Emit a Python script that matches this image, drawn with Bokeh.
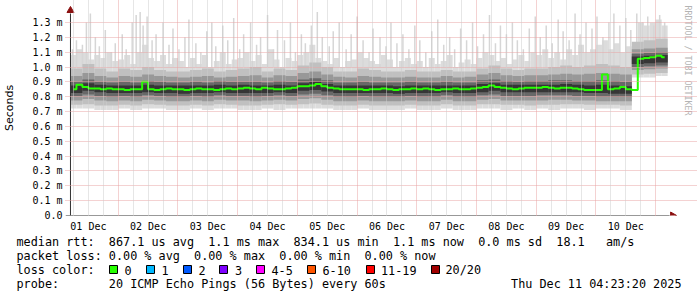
import math
from bokeh.plotting import figure
from bokeh.models import Range1d, FixedTicker, Grid, PrintfTickFormatter
from bokeh.layouts import column
from bokeh.embed import file_html
from bokeh.resources import INLINE
from bokeh.core.properties import value

# ---------------- data (time in hours since 2025-12-01 00:00, latency in ms) ----------------
t0 = 4.8          # first sample
fine_step = 2.4   # median / max resolution
coarse_step = 4.8 # band resolution

median = [
    0.85, 0.88, 0.865, 0.855, 0.855, 0.85, 0.855, 0.85,
    0.85, 0.845, 0.85, 0.85, 0.90, 0.85, 0.845, 0.85, 0.855, 0.85,
    0.85, 0.845, 0.85, 0.855, 0.85, 0.85, 0.845, 0.85, 0.855, 0.85,
    0.855, 0.86, 0.855, 0.85, 0.86, 0.855, 0.85, 0.85, 0.855, 0.86,
    0.87, 0.87, 0.875, 0.885, 0.87, 0.86, 0.855, 0.85, 0.85, 0.85,
    0.85, 0.845, 0.85, 0.85, 0.855, 0.85, 0.845, 0.85, 0.85, 0.855,
    0.85, 0.855, 0.85, 0.845, 0.85, 0.85, 0.855, 0.85, 0.85, 0.855,
    0.86, 0.865, 0.875, 0.865, 0.86, 0.855, 0.85, 0.855, 0.86, 0.86,
    0.86, 0.865, 0.86, 0.855, 0.86, 0.86, 0.855, 0.85, 0.845, 0.845,
    0.845, 0.95, 0.85, 0.855, 0.865, 0.85, 0.845, 1.055, 1.06, 1.065,
    1.075, 1.065,
]

smoke_max = [
    1.08, 1.12, 1.10, 1.05, 1.08, 1.06, 1.10, 1.04,
    1.05, 1.08, 1.02, 1.10, 1.15, 1.06, 1.04, 1.08, 1.02, 1.06,
    1.04, 1.00, 1.06, 1.02, 1.08, 1.00, 1.04, 1.10, 1.02, 1.05,
    1.06, 1.10, 1.04, 1.08, 1.02, 1.12, 1.05, 1.00, 1.06, 1.04,
    1.08, 1.10, 1.15, 1.06, 1.04, 1.02, 1.06, 1.00, 1.04, 1.05,
    1.10, 1.06, 1.04, 1.02, 1.08, 1.05, 1.00, 1.04, 1.06, 1.02,
    1.04, 1.00, 1.06, 1.02, 1.04, 1.08, 1.00, 1.03, 1.05, 1.02,
    1.06, 1.10, 1.08, 1.04, 1.06, 1.02, 1.05, 1.08, 1.04, 1.10,
    1.08, 1.12, 1.06, 1.10, 1.05, 1.12, 1.08, 1.15, 1.10, 1.12,
    1.15, 1.18, 1.12, 1.16, 1.10, 1.14, 1.12, 1.30, 1.28, 1.30,
    1.32, 1.28,
]

# percentile bands, coarse resolution (50 bins)
smoke_min = [0.72, 0.72, 0.71, 0.71, 0.72, 0.71, 0.72, 0.72, 0.71, 0.71,
             0.72, 0.71, 0.72, 0.72, 0.71, 0.71, 0.72, 0.71, 0.72, 0.72,
             0.72, 0.72, 0.71, 0.71, 0.72, 0.71, 0.71, 0.71, 0.72, 0.71,
             0.71, 0.72, 0.71, 0.71, 0.72, 0.72, 0.71, 0.72, 0.71, 0.72,
             0.71, 0.72, 0.72, 0.71, 0.72, 0.72, 0.71, 0.93, 0.93, 0.94]
p10 = [0.745, 0.75, 0.74, 0.74, 0.745, 0.74, 0.75, 0.745, 0.74, 0.74,
       0.745, 0.74, 0.75, 0.745, 0.74, 0.74, 0.745, 0.75, 0.745, 0.75,
       0.755, 0.745, 0.74, 0.74, 0.745, 0.74, 0.74, 0.74, 0.745, 0.74,
       0.74, 0.75, 0.74, 0.74, 0.75, 0.75, 0.745, 0.745, 0.74, 0.745,
       0.745, 0.75, 0.75, 0.745, 0.745, 0.745, 0.74, 0.95, 0.955, 0.96]
p25 = [0.775, 0.785, 0.775, 0.77, 0.775, 0.77, 0.78, 0.775, 0.77, 0.77,
       0.775, 0.77, 0.78, 0.775, 0.775, 0.77, 0.775, 0.78, 0.775, 0.785,
       0.79, 0.78, 0.77, 0.77, 0.775, 0.77, 0.77, 0.77, 0.775, 0.77,
       0.77, 0.78, 0.77, 0.77, 0.78, 0.785, 0.775, 0.775, 0.775, 0.775,
       0.78, 0.78, 0.775, 0.775, 0.77, 0.77, 0.77, 0.98, 0.985, 0.99]
p40 = [0.805, 0.815, 0.805, 0.80, 0.805, 0.80, 0.81, 0.805, 0.80, 0.80,
       0.805, 0.80, 0.81, 0.805, 0.805, 0.80, 0.805, 0.81, 0.805, 0.815,
       0.82, 0.81, 0.80, 0.80, 0.805, 0.80, 0.80, 0.80, 0.805, 0.80,
       0.80, 0.81, 0.80, 0.80, 0.81, 0.815, 0.805, 0.805, 0.805, 0.81,
       0.81, 0.81, 0.805, 0.805, 0.80, 0.80, 0.80, 1.00, 1.005, 1.01]
p45 = [0.825, 0.84, 0.83, 0.825, 0.825, 0.825, 0.83, 0.825, 0.825, 0.82,
       0.825, 0.825, 0.83, 0.825, 0.825, 0.825, 0.825, 0.83, 0.825, 0.84,
       0.845, 0.835, 0.825, 0.825, 0.825, 0.825, 0.825, 0.82, 0.825, 0.825,
       0.825, 0.83, 0.825, 0.825, 0.83, 0.84, 0.83, 0.83, 0.83, 0.83,
       0.83, 0.83, 0.83, 0.825, 0.825, 0.82, 0.82, 1.02, 1.025, 1.03]
p55 = [0.875, 0.89, 0.88, 0.875, 0.875, 0.875, 0.88, 0.875, 0.875, 0.875,
       0.875, 0.875, 0.88, 0.875, 0.88, 0.875, 0.875, 0.88, 0.875, 0.89,
       0.90, 0.885, 0.875, 0.875, 0.875, 0.875, 0.875, 0.87, 0.875, 0.875,
       0.875, 0.875, 0.875, 0.875, 0.885, 0.89, 0.88, 0.88, 0.88, 0.88,
       0.88, 0.885, 0.88, 0.875, 0.88, 0.875, 0.87, 1.07, 1.075, 1.08]
p60 = [0.90, 0.915, 0.90, 0.895, 0.90, 0.895, 0.905, 0.90, 0.895, 0.895,
       0.90, 0.895, 0.905, 0.90, 0.90, 0.90, 0.895, 0.905, 0.90, 0.915,
       0.925, 0.91, 0.895, 0.895, 0.90, 0.895, 0.895, 0.895, 0.90, 0.895,
       0.895, 0.90, 0.895, 0.895, 0.91, 0.915, 0.905, 0.90, 0.905, 0.905,
       0.91, 0.91, 0.905, 0.905, 0.91, 0.905, 0.90, 1.09, 1.095, 1.10]
p75 = [0.94, 0.96, 0.94, 0.93, 0.94, 0.935, 0.95, 0.94, 0.935, 0.93,
       0.935, 0.94, 0.93, 0.935, 0.94, 0.945, 0.93, 0.945, 0.94, 0.96,
       0.97, 0.95, 0.935, 0.93, 0.94, 0.935, 0.93, 0.93, 0.935, 0.93,
       0.93, 0.94, 0.93, 0.935, 0.95, 0.96, 0.945, 0.94, 0.945, 0.945,
       0.95, 0.955, 0.95, 0.955, 0.96, 0.955, 0.95, 1.12, 1.125, 1.13]
p90 = [0.99, 1.02, 0.99, 0.97, 0.99, 0.98, 1.00, 0.98, 0.97, 0.97,
       0.98, 0.99, 0.97, 0.98, 0.99, 1.00, 0.97, 0.99, 0.98, 1.01,
       1.03, 1.00, 0.97, 0.97, 0.99, 0.98, 0.97, 0.97, 0.98, 0.97,
       0.97, 0.98, 0.97, 0.97, 0.99, 1.01, 0.99, 0.98, 0.99, 0.99,
       1.00, 1.01, 1.00, 1.01, 1.02, 1.01, 1.00, 1.17, 1.18, 1.19]

# thin tall outliers (time in hours, value in ms)
spike_t = [5.6, 7.2, 9.6, 11.2, 12.8, 14.8, 16.4, 18.8, 21.2, 22.8,
           25.6, 27.2, 29.6, 31.2, 32.8, 34.0, 35.6, 37.6, 39.2, 42.0,
           44.4, 46.0, 48.4, 50.8, 52.4, 55.2, 57.2, 59.6, 61.6, 63.2,
           66.0, 68.0, 70.4, 72.8, 74.4, 77.2, 79.6, 81.2, 84.0, 86.4,
           88.0, 90.8, 93.2, 95.2, 97.6, 99.2, 101.6, 104.0, 106.0, 108.8,
           110.4, 112.8, 115.6, 117.6, 120.0, 122.4, 124.8, 126.4, 129.2, 131.6,
           133.6, 136.0, 138.4, 140.8, 143.2, 145.2, 147.6, 150.0, 152.4, 154.8,
           157.2, 159.2, 161.6, 164.0, 166.4, 168.4, 170.8, 173.2, 175.6, 177.6,
           180.0, 182.4, 184.4, 186.8, 189.2, 191.6, 193.6, 196.0, 198.4, 200.8,
           202.8, 205.2, 207.6, 209.6, 212.0, 214.4, 216.4, 218.8, 221.2, 223.2,
           225.6, 228.0, 230.0, 232.4, 234.8, 236.8, 239.2, 241.6, 243.6]
spike_v = [1.12, 1.18, 1.15, 1.30, 1.36, 1.20, 1.14, 1.25, 1.10, 1.16,
           1.22, 1.12, 1.30, 1.35, 1.37, 1.28, 1.34, 1.18, 1.22, 1.30,
           1.15, 1.26, 1.12, 1.20, 1.32, 1.16, 1.10, 1.24, 1.30, 1.14,
           1.28, 1.18, 1.33, 1.12, 1.22, 1.30, 1.15, 1.20, 1.35, 1.12,
           1.25, 1.18, 1.30, 1.10, 1.22, 1.16, 1.28, 1.37, 1.20, 1.14,
           1.24, 1.30, 1.12, 1.22, 1.34, 1.18, 1.10, 1.26, 1.20, 1.14,
           1.30, 1.16, 1.22, 1.12, 1.28, 1.18, 1.10, 1.24, 1.32, 1.15,
           1.20, 1.12, 1.26, 1.18, 1.30, 1.14, 1.22, 1.35, 1.16, 1.28,
           1.22, 1.30, 1.18, 1.12, 1.26, 1.34, 1.20, 1.28, 1.16, 1.32,
           1.24, 1.18, 1.36, 1.22, 1.30, 1.26, 1.34, 1.20, 1.30, 1.36,
           1.28, 1.33, 1.25, 1.36, 1.30, 1.34, 1.28, 1.35, 1.30]

y_ticks = [0.0, 0.1, 0.2, 0.3, 0.4, 0.5, 0.6, 0.7, 0.8, 0.9, 1.0, 1.1, 1.2, 1.3]
day_labels = ["01 Dec", "02 Dec", "03 Dec", "04 Dec", "05 Dec",
              "06 Dec", "07 Dec", "08 Dec", "09 Dec", "10 Dec"]
day_centers = [12 + 24 * i for i in range(10)]
day_bounds = [24 * (i + 1) for i in range(10)]
six_hour = [6 * k for k in range(1, 40) if (6 * k) % 24 != 0 and 6 * k < 245]

legend_rows = [
    "median rtt:  867.1 us avg  1.1 ms max  834.1 us min  1.1 ms now  0.0 ms sd  18.1   am/s",
    "packet loss: 0.00 % avg  0.00 % max  0.00 % min  0.00 % now",
    "loss color:",
    "probe:       20 ICMP Echo Pings (56 Bytes) every 60s",
]
loss_labels = ["0", "1", "2", "3", "4-5", "6-10", "11-19", "20/20"]
loss_colors = ["#26ff00", "#00b8ff", "#0059ff", "#7e00ff", "#ff00ff", "#ff5500", "#ff0000", "#a10000"]
stamp = "Thu Dec 11 04:23:20 2025"
watermark = "RRDTOOL / TOBI OETIKER"

NB = "\u00a0"
def keep_spaces(s):
    return s.replace(" ", NB)

# ---------------- main plot ----------------
PX_H = 0.4            # hours per pixel
PX_MS = 1 / 148.5     # ms per pixel
MAIN_H = 234
x_lo = t0 - 5 * PX_H
x_hi = x_lo + 635 * PX_H
y_hi = 215 * PX_MS
data_end = t0 + len(median) * fine_step

p = figure(width=697, height=MAIN_H, output_backend="svg", toolbar_location=None, title=None,
           x_range=Range1d(x_lo, x_hi), y_range=Range1d(0, y_hi),
           min_border_left=62, min_border_right=0, min_border_top=0,
           min_border_bottom=MAIN_H - 215)
p.outline_line_color = None
p.background_fill_color = "white"
p.border_fill_color = "white"
p.frame_align = False

fine_left = [t0 + i * fine_step for i in range(len(median))]
fine_right = [t + fine_step for t in fine_left]
coarse_left = [t0 + i * coarse_step for i in range(len(p10))]
coarse_right = [t + coarse_step for t in coarse_left]

# lightest smoke: min .. max, plus tall outliers
p.quad(left=fine_left, right=fine_right,
       bottom=[smoke_min[i // 2] for i in range(len(median))], top=smoke_max,
       fill_color="#dcdcdc", line_color=None)
p.vbar(x=spike_t, width=0.6, bottom=[1.0] * len(spike_t), top=spike_v,
       fill_color="#d6d6d6", line_color=None)
bands = [(p10, p90, "#c0c0c0"), (p25, p75, "#989898"), (p40, p60, "#686868"), (p45, p55, "#363636")]
for lo, hi, col in bands:
    p.quad(left=coarse_left, right=coarse_right, bottom=lo, top=hi,
           fill_color=col, line_color=None)

# median line
p.step(x=[t + fine_step / 2 for t in fine_left], y=median, mode="center",
       line_color="#26ff00", line_width=2)

# grids
grid_red = "#e8a4a4"
p.xgrid.ticker = FixedTicker(ticks=day_bounds)
p.xgrid.grid_line_color = grid_red
p.xgrid.grid_line_dash = "1 1"
p.xgrid.bounds = (0, 1.37)
p.xgrid.level = "overlay"
p.ygrid.ticker = FixedTicker(ticks=y_ticks[1:])
p.ygrid.grid_line_color = grid_red
p.ygrid.grid_line_dash = "1 1"
p.ygrid.bounds = (t0, data_end + 1)
p.ygrid.level = "overlay"
minor = Grid(dimension=0, ticker=FixedTicker(ticks=six_hour), grid_line_color="#cdcdcd",
             grid_line_dash="1 1", bounds=(0, 1.37), level="overlay")
p.add_layout(minor)

# axes
p.yaxis.ticker = FixedTicker(ticks=y_ticks)
p.yaxis.formatter = PrintfTickFormatter(format="%.1f m")
p.yaxis.major_label_overrides = {0: "0.0"}
p.yaxis.axis_line_color = None
p.yaxis.major_tick_in = 0
p.yaxis.major_tick_out = 0
p.yaxis.minor_tick_line_color = None
p.yaxis.major_label_standoff = 3
p.yaxis.major_label_text_font = "DejaVu Sans Mono"
p.yaxis.major_label_text_font_size = "10px"
p.yaxis.major_label_text_color = "#000000"
p.yaxis.axis_label = "Seconds"
p.yaxis.axis_label_text_font = "DejaVu Sans"
p.yaxis.axis_label_text_font_size = "11px"
p.yaxis.axis_label_text_font_style = "normal"
p.yaxis.axis_label_text_color = "#000000"
p.yaxis.axis_label_standoff = 13

p.xaxis.ticker = FixedTicker(ticks=day_centers)
p.xaxis.major_label_overrides = {c: l for c, l in zip(day_centers, day_labels)}
p.xaxis.axis_line_color = None
p.xaxis.major_tick_in = 0
p.xaxis.major_tick_out = 0
p.xaxis.minor_tick_line_color = None
p.xaxis.major_label_standoff = 5
p.xaxis.major_label_text_font = "DejaVu Sans Mono"
p.xaxis.major_label_text_font_size = "10px"
p.xaxis.major_label_text_color = "#000000"

# axis lines and arrows
p.segment(x0=[x_lo, t0], y0=[0, 0], x1=[t0 + 602 * PX_H, t0], y1=[0, y_hi - 13 * PX_MS],
          line_color="#333333", line_width=1)
p.scatter(x=[t0 + 605 * PX_H], y=[0], marker="triangle", angle=-math.pi / 2, size=7,
          fill_color="#8b1010", line_color="#8b1010")
p.scatter(x=[t0], y=[y_hi - 10 * PX_MS], marker="triangle", size=7,
          fill_color="#8b1010", line_color="#8b1010")

# watermark
p.text(x=[t0 + 620 * PX_H], y=[y_hi - 5 * PX_MS], text=[keep_spaces(watermark)], angle=-math.pi / 2,
       text_font=value("DejaVu Sans Mono"), text_font_size="8.3px", text_color="#b4b4b4",
       text_align="left", text_baseline="middle")

# ---------------- legend block ----------------
lg = figure(width=697, height=297 - MAIN_H, output_backend="svg", toolbar_location=None, title=None,
            x_range=Range1d(0, 697), y_range=Range1d(297, MAIN_H),
            x_axis_location=None, y_axis_location=None, min_border=0)
lg.grid.visible = False
lg.outline_line_color = None
lg.frame_align = False

row_y = [241.5, 255.5, 269.5, 283.5]
lg.text(x=[16] * 4, y=row_y, text=[keep_spaces(r) for r in legend_rows],
        text_font=value("DejaVu Sans Mono"),
        text_font_size="11.8px", text_color="#000000", text_align="left", text_baseline="middle")
sq_x = [109, 146, 183, 219, 256, 307, 366, 431]
lab_x = [124, 161, 198, 234.5, 271, 322, 380.5, 445]
lg.quad(left=sq_x, right=[s + 8 for s in sq_x], top=[265] * 8, bottom=[273] * 8,
        fill_color=loss_colors, line_color="#000000", line_width=1)
lg.text(x=lab_x, y=[269.5] * 8, text=loss_labels, text_font=value("DejaVu Sans Mono"),
        text_font_size="11.8px", text_color="#000000", text_align="left", text_baseline="middle")
lg.text(x=[681], y=[283.5], text=[keep_spaces(stamp)], text_font=value("DejaVu Sans Mono"),
        text_font_size="11.8px", text_color="#000000", text_align="right", text_baseline="middle")

layout = column(p, lg, spacing=0)
open("out.html", "w").write(file_html(layout, INLINE))
